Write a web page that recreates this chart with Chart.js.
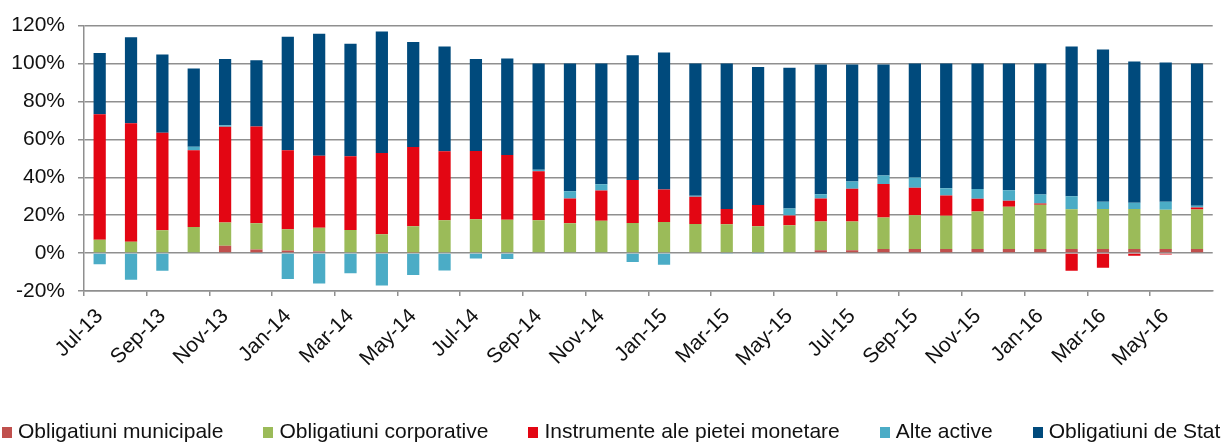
<!DOCTYPE html>
<html>
<head>
<meta charset="utf-8">
<script src="https://cdn.jsdelivr.net/npm/chart.js@4/dist/chart.umd.min.js"></script>
<style>
  html, body { margin: 0; padding: 0; background: #fff; }
  #wrap { position: relative; width: 1223px; height: 445px; overflow: hidden; }
  #legend {
    position: absolute; left: 2px; top: 419px;
    display: flex; gap: 40px; white-space: nowrap;
    font: 21px "Liberation Sans", Arial, sans-serif; color: #111;
  }
  #legend span.item { display: flex; align-items: center; }
  #legend i { display: inline-block; width: 10px; height: 11px; margin-right: 6px; margin-top: 2px; }
</style>
</head>
<body>
<div id="wrap">
  <canvas id="chart" width="1223" height="445"></canvas>
  <div id="legend"></div>
</div>
<script>
// ── Data (% of portfolio, Jul-13 .. Jun-16) ────────────────

const MONTHS = [
  'Jul-13', 'Aug-13', 'Sep-13', 'Oct-13', 'Nov-13', 'Dec-13',
  'Jan-14', 'Feb-14', 'Mar-14', 'Apr-14', 'May-14', 'Jun-14',
  'Jul-14', 'Aug-14', 'Sep-14', 'Oct-14', 'Nov-14', 'Dec-14',
  'Jan-15', 'Feb-15', 'Mar-15', 'Apr-15', 'May-15', 'Jun-15',
  'Jul-15', 'Aug-15', 'Sep-15', 'Oct-15', 'Nov-15', 'Dec-15',
  'Jan-16', 'Feb-16', 'Mar-16', 'Apr-16', 'May-16', 'Jun-16',
];

const municipale = [
  0, 0, 0, 0, 3.9, 1.9, 1.3, 0.8, 0.5, 0.3, 0.3, 0,
  0, 0, 0, 0, 0, 0, 0, 0, 0, 0, 0, 1.5,
  1.5, 2.1, 2.1, 2.1, 2.1, 2.1, 2.1, 2.1, 2.1, 2.1, 2.1, 2.1,
];
const corporative = [
  7, 6, 12.1, 13.8, 12.3, 13.8, 11.3, 12.5, 11.7, 9.7, 13.8, 17.3,
  17.9, 17.6, 17.3, 15.7, 17.1, 15.9, 16.4, 15.3, 15.2, 14.1, 14.7, 15.2,
  15.2, 16.7, 17.9, 17.6, 19.8, 22.4, 23.4, 21, 21.2, 21.2, 20.7, 20.9,
];
const monetare = [
  66.2, 62.5, 51.4, 40.4, 50.4, 51.1, 41.6, 38, 38.9, 42.8, 41.9, 36.4,
  36, 34.2, 25.9, 13.1, 15.9, 22.6, 17.1, 14.4, 8.1, 11.3, 5.1, 12.1,
  17.3, 17.6, 14.4, 10.7, 6.8, 3.1, 0.7, -9.3, -7.8, -1.4, -0.7, 1.1,
];
const alteActive = [
  -5.9, -14, -9.3, 1.9, 0.8, -0.5, -13.7, -16.1, -10.6, -17.1, -11.6, -9.2,
  -2.8, -3.1, 0.8, 3.8, 3.3, -4.7, -6.2, 0.5, -0.5, -0.5, 3.7, 2.3,
  3.8, 4.5, 5.5, 3.8, 5.1, 5.6, 4.7, 6.9, 3.8, 3.3, 4.3, 0.9,
];
const deStat = [
  32.3, 45.3, 41.3, 41.3, 35, 34.9, 59.9, 64.4, 59.3, 64.1, 55.4, 55.3,
  48.5, 50.9, 56, 67.4, 63.7, 65.8, 72.3, 69.8, 76.7, 72.7, 74.2, 68.4,
  61.7, 58.6, 60.1, 65.8, 66.2, 66.8, 69.1, 79, 80.3, 74.4, 73.4, 75,
];

const Y_TICKS = { min: -20, max: 120, step: 20 };

// ── Style ──────────────────────────────────────────────────

const COLORS = {
  municipale: '#c0504d',
  corporative: '#9bbb59',
  monetare: '#e30613',
  alte: '#4bacc6',
  stat: '#004a7c',
  grid: '#8f8f8f',
  text: '#111',
};
const FONT = { family: '"Liberation Sans", Arial, sans-serif', size: 21 };

const datasets = [
  { label: 'Obligatiuni municipale', data: municipale, backgroundColor: COLORS.municipale },
  { label: 'Obligatiuni corporative', data: corporative, backgroundColor: COLORS.corporative },
  { label: 'Instrumente ale pietei monetare', data: monetare, backgroundColor: COLORS.monetare },
  { label: 'Alte active', data: alteActive, backgroundColor: COLORS.alte },
  { label: 'Obligatiuni de Stat', data: deStat, backgroundColor: COLORS.stat },
].map(ds => ({ ...ds, barPercentage: 0.39, categoryPercentage: 1, borderWidth: 0 }));

// ── Chart ──────────────────────────────────────────────────

new Chart(document.getElementById('chart'), {
  type: 'bar',
  data: { labels: MONTHS, datasets },
  options: {
    responsive: false,
    animation: false,
    layout: { padding: { top: 20, right: 10, bottom: 0, left: 0 } },
    plugins: { legend: { display: false }, tooltip: { enabled: false } },
    scales: {
      x: {
        stacked: true,
        grid: {
          offset: true,
          drawOnChartArea: false,
          tickLength: 5,
          lineWidth: 1.5,
          color: ctx => (ctx.index % 2 === 0 ? COLORS.grid : 'rgba(0,0,0,0)'),
        },
        border: { color: COLORS.grid, width: 1.5 },
        ticks: {
          autoSkip: false,
          minRotation: 45,
          maxRotation: 45,
          padding: 8,
          font: FONT,
          color: COLORS.text,
          callback: (v, i) => (i % 2 === 0 ? MONTHS[i] : ''),
        },
        afterFit: scale => { scale.height = 154; },
      },
      y: {
        stacked: true,
        min: Y_TICKS.min,
        max: Y_TICKS.max,
        ticks: {
          stepSize: Y_TICKS.step,
          padding: 13,
          font: FONT,
          color: COLORS.text,
          callback: v => v + '%',
        },
        grid: { color: COLORS.grid, lineWidth: 1.5, tickLength: 6 },
        border: { color: COLORS.grid, width: 1.5 },
        afterFit: scale => { scale.width = 84; },
      },
    },
  },
});

// ── Legend (below the chart, runs off the right edge) ──────

document.getElementById('legend').innerHTML = datasets.map(ds =>
  `<span class="item"><i style="background:${ds.backgroundColor}"></i>${ds.label}</span>`
).join('');
</script>
</body>
</html>
